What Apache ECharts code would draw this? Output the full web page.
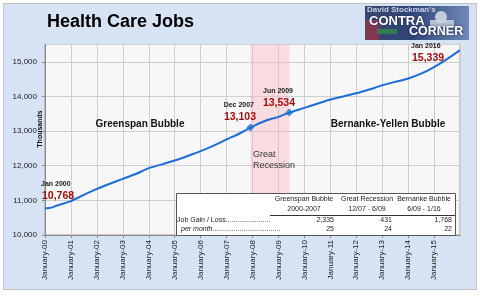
<!DOCTYPE html>
<html>
<head>
<meta charset="utf-8">
<script src="https://cdn.jsdelivr.net/npm/echarts@6/dist/echarts.min.js"></script>
<style>
  html, body { margin: 0; padding: 0; background: #fff; }
  #wrap { position: relative; width: 480px; height: 300px; }
  #panel { position: absolute; left: 3px; top: 3px; width: 472px; height: 285px; background: #d6e3f5; border: 1px solid #c4c4c4; }
  #chart { position: absolute; left: 0; top: 0; width: 480px; height: 300px; }
</style>
</head>
<body>
<div id="wrap"><div id="panel"></div><div id="chart"></div></div>
<script>
// months since Jan 2000, health care jobs (thousands)
const months = [0, 3, 6, 12, 18, 24, 30, 36, 42, 48, 54, 60, 66, 72, 78, 84, 90, 95,
  102, 108, 113, 120, 126, 132, 138, 144, 150, 156, 162, 168, 174, 180, 186, 192];
const jobs = [10768, 10790, 10860, 10980, 11160, 11330, 11480, 11620, 11760, 11930, 12040, 12150,
  12280, 12420, 12580, 12760, 12930, 13103, 13300, 13410, 13534, 13670, 13790, 13910, 14000,
  14090, 14200, 14320, 14420, 14520, 14660, 14850, 15080, 15339];

const yearLabels = ['00', '01', '02', '03', '04', '05', '06', '07', '08', '09', '10', '11', '12', '13', '14', '15'];

const recession = [95, 113];          // Dec 2007 - Jun 2009
const markerMonths = [95, 113];

const keyLabels = ['Jan 2000', 'Dec 2007', 'Jun 2009', 'Jan 2016'];
const keyValues = [10768, 13103, 13534, 15339];

const tableCols = ['Greenspan Bubble', 'Great Recession', 'Bernanke Bubble'];
const tableRanges = ['2000-2007', '12/07 - 6/09', '6/09 - 1/16'];
const jobGain = [2335, 431, 1768];
const perMonth = [25, 24, 22];

const FONT = 'Liberation Sans, Arial, sans-serif';
const LINE = '#1c6ed6';
const RED = '#a30d0d';
const fmt = v => v.toLocaleString('en-US');

const myChart = echarts.init(document.getElementById('chart'));

// annotation positions [x, y of label line]
const keyPos = [[41, 184, 'left'], [254, 105, 'right'], [293, 91, 'right'], [411, 46, 'left']];

const graphics = [];
keyLabels.forEach((lab, i) => {
  const [x, y, align] = keyPos[i];
  graphics.push({
    type: 'text', x: x, y: y, z: 50,
    style: { text: lab, font: 'bold 7px ' + FONT, fill: '#222', align: align, verticalAlign: 'middle' }
  });
  graphics.push({
    type: 'text', x: align === 'left' ? x + 1 : x + 2, y: y + 12, z: 50,
    style: { text: fmt(keyValues[i]), font: 'bold 10.5px ' + FONT, fill: RED, align: align, verticalAlign: 'middle' }
  });
});

// section labels
graphics.push(
  { type: 'text', x: 140, y: 124, z: 50, style: { text: 'Greenspan Bubble', font: 'bold 10px ' + FONT, fill: '#111', align: 'center', verticalAlign: 'middle' } },
  { type: 'text', x: 388, y: 124, z: 50, style: { text: 'Bernanke-Yellen Bubble', font: 'bold 10px ' + FONT, fill: '#111', align: 'center', verticalAlign: 'middle' } },
  { type: 'text', x: 253, y: 155, z: 50, style: { text: 'Great', font: '9px ' + FONT, fill: '#333', verticalAlign: 'middle' } },
  { type: 'text', x: 253, y: 166, z: 50, style: { text: 'Recession', font: '9px ' + FONT, fill: '#333', verticalAlign: 'middle' } },
  { type: 'text', x: 40, y: 129, z: 50, rotation: Math.PI / 2, style: { text: 'Thousands', font: 'bold 7px ' + FONT, fill: '#111', align: 'center', verticalAlign: 'middle' } }
);

// summary table
const colCenters = [304, 367, 424];
const colRights = [334, 392, 452];
graphics.push(
  { type: 'rect', z: 60, shape: { x: 176.5, y: 193.5, width: 279, height: 42 }, style: { fill: '#fff', stroke: '#555', lineWidth: 1 } },
  { type: 'line', z: 61, shape: { x1: 270, y1: 215.5, x2: 455, y2: 215.5 }, style: { stroke: '#333', lineWidth: 1 } },
  { type: 'text', x: 177, y: 220.5, z: 61, style: { text: 'Job Gain / Loss.......................', font: '7px ' + FONT, fill: '#222', verticalAlign: 'middle' } },
  { type: 'text', x: 181, y: 229.5, z: 61, style: { text: 'per month...................................', font: 'italic 7px ' + FONT, fill: '#222', verticalAlign: 'middle' } }
);
tableCols.forEach((c, i) => {
  graphics.push(
    { type: 'text', x: colCenters[i], y: 199.5, z: 61, style: { text: c, font: '7px ' + FONT, fill: '#222', align: 'center', verticalAlign: 'middle' } },
    { type: 'text', x: colCenters[i], y: 209.5, z: 61, style: { text: tableRanges[i], font: '7px ' + FONT, fill: '#222', align: 'center', verticalAlign: 'middle' } },
    { type: 'text', x: colRights[i], y: 220.5, z: 61, style: { text: fmt(jobGain[i]), font: '7px ' + FONT, fill: '#222', align: 'right', verticalAlign: 'middle' } },
    { type: 'text', x: colRights[i], y: 229.5, z: 61, style: { text: String(perMonth[i]), font: '7px ' + FONT, fill: '#222', align: 'right', verticalAlign: 'middle' } }
  );
});

// logo box (top right)
graphics.push(
  { type: 'rect', z: 70, shape: { x: 365, y: 6, width: 104, height: 34 },
    style: { fill: new echarts.graphic.LinearGradient(0, 0, 1, 0, [
      { offset: 0, color: '#3a4570' }, { offset: 0.45, color: '#2e4478' }, { offset: 1, color: '#7189b8' }]) } },
  { type: 'rect', z: 71, shape: { x: 365, y: 20, width: 14, height: 20 }, style: { fill: '#b03040', opacity: 0.6 } },
  { type: 'rect', z: 71, shape: { x: 377, y: 29, width: 20, height: 5 }, style: { fill: '#2f7d52' } },
  { type: 'circle', z: 71, shape: { cx: 441, cy: 17, r: 6 }, style: { fill: '#d7deea', opacity: 0.85 } },
  { type: 'rect', z: 71, shape: { x: 430, y: 20, width: 24, height: 7 }, style: { fill: '#c9d2e2', opacity: 0.85 } },
  { type: 'text', x: 367, y: 9.5, z: 72, style: { text: "David Stockman's", font: 'bold 8px ' + FONT, fill: '#c9d1e2', verticalAlign: 'middle' } },
  { type: 'text', x: 369, y: 21, z: 72, style: { text: 'CONTRA', font: 'bold 13px ' + FONT, fill: '#fff', verticalAlign: 'middle', textShadowColor: '#1a2340', textShadowBlur: 2 } },
  { type: 'text', x: 409, y: 32, z: 72, style: { text: 'CORNER', font: 'bold 12.5px ' + FONT, fill: '#fff', verticalAlign: 'middle', textShadowColor: '#1a2340', textShadowBlur: 3 } }
);

myChart.setOption({
  animation: false,
  backgroundColor: 'transparent',
  title: {
    text: 'Health Care Jobs',
    left: 47,
    top: 13,
    padding: 0,
    textStyle: { fontFamily: FONT, fontSize: 18, fontWeight: 'bold', color: '#000' }
  },
  grid: {
    left: 45, right: 20, top: 44.5, bottom: 65,
    show: true, backgroundColor: '#f7f7f7', borderColor: '#9a9a9a', borderWidth: 1
  },
  xAxis: {
    type: 'value',
    min: 0,
    max: 192,
    interval: 12,
    axisLine: { lineStyle: { color: '#8a8a8a' } },
    axisTick: { show: true, length: 3, lineStyle: { color: '#8a8a8a' } },
    splitLine: { show: true, lineStyle: { color: '#cfcfcf' } },
    axisLabel: {
      rotate: 90, margin: 5, fontSize: 8, fontFamily: FONT, color: '#222',
      showMaxLabel: false,
      formatter: v => yearLabels[v / 12] ? 'January-' + yearLabels[v / 12] : ''
    }
  },
  yAxis: {
    type: 'value',
    min: 10000,
    max: 15500,
    interval: 1000,
    axisLine: { show: true, lineStyle: { color: '#8a8a8a' } },
    axisTick: { show: true, length: 3, lineStyle: { color: '#8a8a8a' } },
    splitLine: { lineStyle: { color: '#cfcfcf' } },
    axisLabel: {
      margin: 8, fontSize: 8, fontFamily: FONT, color: '#222',
      showMaxLabel: false,
      formatter: v => fmt(v)
    }
  },
  series: [
    {
      type: 'line',
      data: months.map((m, i) => [m, jobs[i]]),
      showSymbol: false,
      smooth: 0.25,
      lineStyle: { color: LINE, width: 2 },
      markArea: {
        silent: true,
        itemStyle: { color: 'rgba(248,170,180,0.35)' },
        data: [[{ xAxis: recession[0] }, { xAxis: recession[1] }]]
      }
    },
    {
      type: 'scatter',
      symbol: 'diamond',
      symbolSize: 8,
      itemStyle: { color: LINE },
      data: markerMonths.map(m => [m, jobs[months.indexOf(m)]])
    }
  ],
  graphic: graphics
});
</script>
</body>
</html>
